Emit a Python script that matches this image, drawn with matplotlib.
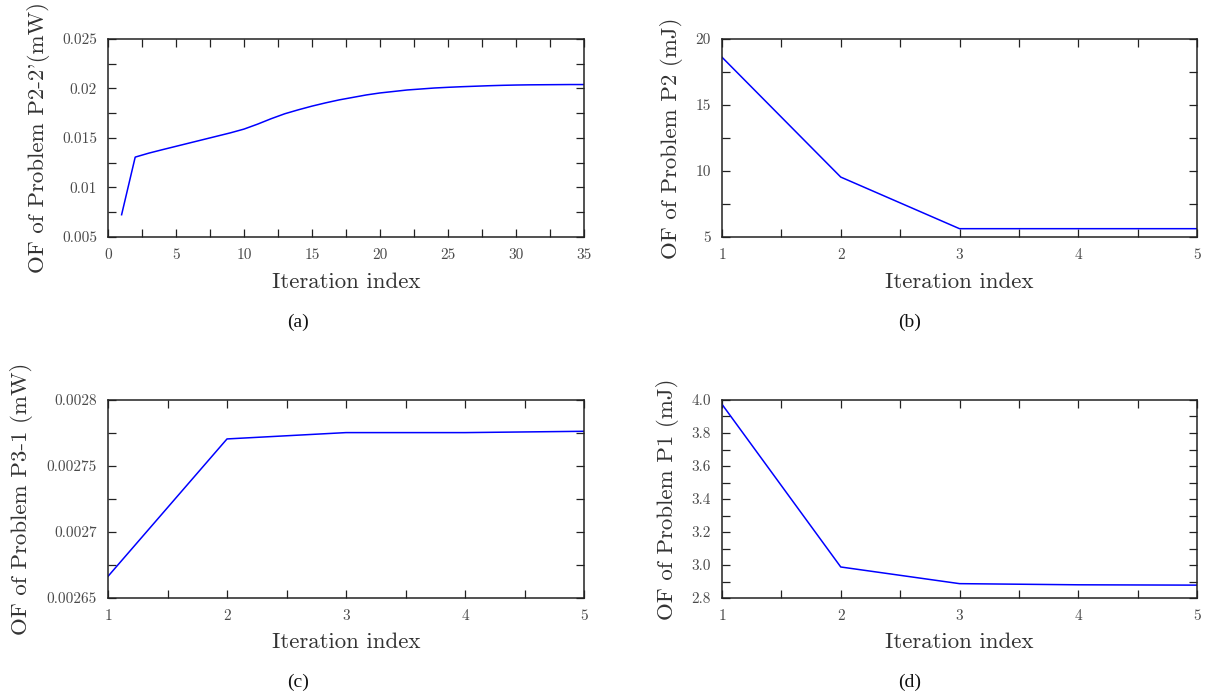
import matplotlib
matplotlib.use("Agg")
import matplotlib.pyplot as plt
from matplotlib.ticker import MultipleLocator, FixedLocator, FuncFormatter

# ---- data ----
iter_a = list(range(1, 36))
of_a = [0.00725, 0.01307, 0.01347, 0.01382, 0.01416, 0.01450, 0.01484, 0.01518,
        0.01552, 0.01590, 0.01640, 0.01695, 0.01745, 0.01785, 0.01822, 0.01855,
        0.01885, 0.01910, 0.01935, 0.01955, 0.01970, 0.01985, 0.01995, 0.02005,
        0.02012, 0.02018, 0.02023, 0.02028, 0.02032, 0.02035, 0.02037, 0.02038,
        0.02039, 0.02040, 0.02040]

iter_b = [1, 2, 3, 4, 5]
of_b = [18.62, 9.54, 5.63, 5.63, 5.63]

iter_c = [1, 2, 3, 4, 5]
of_c = [0.0026664, 0.0027705, 0.0027753, 0.0027753, 0.0027763]

iter_d = [1, 2, 3, 4, 5]
of_d = [3.974, 2.988, 2.887, 2.880, 2.878]

ylabels = ["OF of Problem P2-2'(mW)", "OF of Problem P2 (mJ)",
           "OF of Problem P3-1 (mW)", "OF of Problem P1 (mJ)"]
xlabel = "Iteration index"
captions = ["(a)", "(b)", "(c)", "(d)"]

W, H = 1206, 696
fig = plt.figure(figsize=(W / 100, H / 100), dpi=100)

CM = "cmr10"
TICKCOL = "#4a4a4a"
LABCOL = "#333333"


def px_axes(l, t, r, b):
    return fig.add_axes([l / W, 1 - b / H, (r - l) / W, (b - t) / H])


def style(ax, xlim, xmaj, xmin, ylim, ymaj, ymin, yfmt, ylab, ylab_x, xlab_y):
    ax.set_xlim(*xlim)
    ax.set_ylim(*ylim)
    ax.xaxis.set_major_locator(FixedLocator(xmaj))
    ax.xaxis.set_minor_locator(MultipleLocator(xmin))
    ax.yaxis.set_major_locator(FixedLocator(ymaj))
    ax.yaxis.set_minor_locator(MultipleLocator(ymin))
    ax.yaxis.set_major_formatter(FuncFormatter(yfmt))
    ax.xaxis.set_major_formatter(FuncFormatter(lambda v, p: f"{v:g}"))
    ax.tick_params(which="both", direction="in", top=True, right=True,
                   length=5.5, width=0.9, color="#222222")
    ax.tick_params(which="major", labelsize=11, labelcolor=TICKCOL, pad=8)
    for lab in ax.get_xticklabels() + ax.get_yticklabels():
        lab.set_fontfamily(CM)
    for s in ax.spines.values():
        s.set_linewidth(1.1)
        s.set_color("#222222")
    ax.set_ylabel(ylab, fontsize=16.5, fontfamily=CM, color=LABCOL)
    ax.set_xlabel(xlabel, fontsize=16.5, fontfamily=CM, color=LABCOL)
    ax.yaxis.set_label_coords(ylab_x, 0.5)
    ax.xaxis.set_label_coords(0.5, xlab_y)


LINE = dict(color="#0000ff", lw=1.1)

# (a)
ax = px_axes(108, 39, 584, 237)
ax.plot(iter_a, of_a, **LINE)
style(ax, (0, 35), [0, 5, 10, 15, 20, 25, 30, 35], 2.5,
      (0.005, 0.025), [0.005, 0.01, 0.015, 0.02, 0.025], 0.0025,
      lambda v, p: f"{v:g}", ylabels[0], -0.122, -0.177)

# (b)
ax = px_axes(722, 39, 1197, 237)
ax.plot(iter_b, of_b, **LINE)
style(ax, (1, 5), [1, 2, 3, 4, 5], 0.5,
      (5, 20), [5, 10, 15, 20], 2.5,
      lambda v, p: f"{v:g}", ylabels[1], -0.082, -0.177)

# (c)
ax = px_axes(108, 400, 584, 598)
ax.plot(iter_c, of_c, **LINE)
style(ax, (1, 5), [1, 2, 3, 4, 5], 0.5,
      (0.00265, 0.0028), [0.00265, 0.0027, 0.00275, 0.0028], 0.000025,
      lambda v, p: f"{round(v, 6):.6f}".rstrip("0"), ylabels[2], -0.158, -0.172)

# (d)
ax = px_axes(722, 400, 1197, 598)
ax.plot(iter_d, of_d, **LINE)
style(ax, (1, 5), [1, 2, 3, 4, 5], 0.5,
      (2.8, 4.0), [2.8, 3.0, 3.2, 3.4, 3.6, 3.8, 4.0], 0.1,
      lambda v, p: f"{v:.1f}", ylabels[3], -0.091, -0.172)

cap_pos = [(298, 322), (910, 322), (298, 682), (910, 682)]
for cap, (cx, cy) in zip(captions, cap_pos):
    fig.text(cx / W, 1 - cy / H, cap, ha="center", va="center",
             fontsize=14, fontfamily="Liberation Serif", color="#111111")

fig.savefig("out.png", dpi=100)
